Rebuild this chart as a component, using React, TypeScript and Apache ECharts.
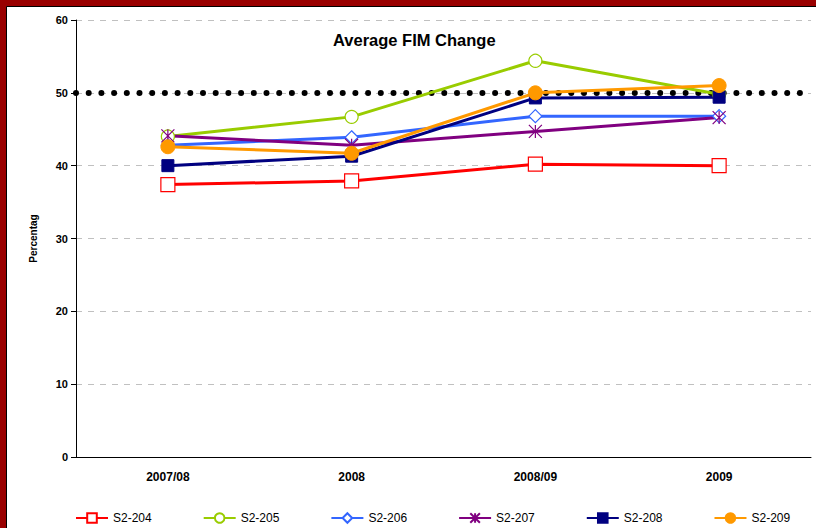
import React, { useEffect, useRef } from "react";
import * as echarts from "echarts";

const categories = ["2007/08", "2008", "2008/09", "2009"];
const seriesNames = ["S2-204", "S2-205", "S2-206", "S2-207", "S2-208", "S2-209"];
const s204 = [37.4, 37.9, 40.2, 40.0];
const s205 = [44.0, 46.7, 54.4, 49.8];
const s206 = [42.8, 43.9, 46.8, 46.8];
const s207 = [44.1, 42.8, 44.7, 46.6];
const s208 = [40.0, 41.3, 49.3, 49.4];
const s209 = [42.6, 41.7, 50.0, 51.0];
const targetValue = 50;
const yTicks = [0, 10, 20, 30, 40, 50, 60];

const asterisk = "path://M0,0L10,10M10,0L0,10M5,0L5,10";

export default function App() {
  const ref = useRef<HTMLDivElement>(null);
  useEffect(() => {
    const chart = echarts.init(ref.current!, null, { renderer: "svg" });
    const font = "'Liberation Sans', Arial, sans-serif";
    const mk = (name: string, data: number[], color: string, symbol: string, size: number, filled: boolean, extra: any = {}) => ({
      name,
      type: "line",
      data,
      symbol,
      symbolSize: size,
      showAllSymbol: true,
      lineStyle: { color, width: 3 },
      itemStyle: filled
        ? { color, borderColor: color, borderWidth: 1 }
        : { color: "#ffffff", borderColor: color, borderWidth: 1.2 },
      emphasis: { disabled: true },
      z: 3,
      ...extra,
    });
    const series: any[] = [
      mk(seriesNames[0], s204, "#ff0000", "rect", 14, false),
      mk(seriesNames[1], s205, "#99cc00", "circle", 13, false),
      mk(seriesNames[2], s206, "#3366ff", "diamond", 13, false),
      {
        ...mk(seriesNames[3], s207, "#800080", asterisk, 13, false),
        itemStyle: { color: "transparent", borderColor: "#800080", borderWidth: 1.2 },
      },
      mk(seriesNames[4], s208, "#000080", "rect", 12, true),
      mk(seriesNames[5], s209, "#ff9900", "circle", 14, true),
    ];
    series[0].markLine = {
      silent: true,
      symbol: "none",
      label: { show: false },
      lineStyle: { color: "#000000", width: 6, type: [0, 12.7], cap: "round" },
      data: [{ yAxis: targetValue }],
      z: 1,
    };
    chart.setOption({
      animation: false,
      backgroundColor: "#ffffff",
      title: {
        text: "Average FIM Change",
        left: 328,
        top: 26,
        textStyle: { fontFamily: font, fontSize: 16.5, fontWeight: "bold", color: "#000" },
      },
      grid: { left: 76, right: 5, top: 20, bottom: 71 },
      legend: {
        top: 507,
        left: 70,
        width: 790,
        itemGap: 51,
        itemWidth: 32,
        itemHeight: 12,
        textStyle: { fontFamily: font, fontSize: 12, color: "#000" },
        data: seriesNames,
      },
      xAxis: {
        type: "category",
        data: categories,
        boundaryGap: true,
        axisLine: { lineStyle: { color: "#000", width: 1 } },
        axisTick: { show: false },
        axisLabel: { fontFamily: font, fontSize: 12, fontWeight: "bold", color: "#000", margin: 14 },
      },
      yAxis: {
        type: "value",
        min: yTicks[0],
        max: yTicks[yTicks.length - 1],
        interval: 10,
        name: "Percentag",
        nameLocation: "middle",
        nameGap: 38,
        nameRotate: 90,
        nameTextStyle: { fontFamily: font, fontSize: 10, fontWeight: "bold", color: "#000" },
        axisLine: { show: true, lineStyle: { color: "#000", width: 1 } },
        axisTick: { show: true, length: 5, lineStyle: { color: "#000" } },
        axisLabel: { fontFamily: font, fontSize: 11, fontWeight: "bold", color: "#000", margin: 8 },
        splitLine: { lineStyle: { color: "#c0c0c0", type: [6, 6] } },
      },
      graphic: [
        { type: "rect", shape: { x: 3, y: 3, width: 840, height: 560 }, style: { fill: "none", stroke: "#990000", lineWidth: 7 }, z: 100 },
        { type: "rect", shape: { x: 6.5, y: 6.5, width: 840, height: 560 }, style: { fill: "none", stroke: "#000000", lineWidth: 1 }, z: 100 },
      ],
      series,
    });
    return () => chart.dispose();
  }, []);
  return <div ref={ref} style={{ position: "absolute", left: 0, top: 0, width: 816, height: 528 }} />;
}
